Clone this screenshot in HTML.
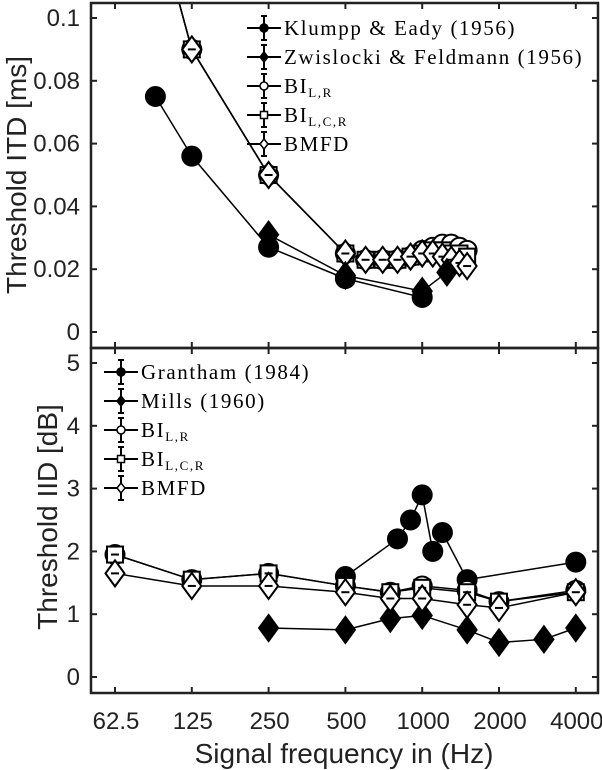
<!DOCTYPE html>
<html><head><meta charset="utf-8"><style>
body{margin:0;background:#fff}
svg{display:block;font-family:"Liberation Sans",sans-serif}
.leg{font-family:"Liberation Serif",serif;font-size:21px;letter-spacing:1.6px}
</style></head><body>
<svg id="c" width="602" height="770" xmlns="http://www.w3.org/2000/svg"></svg>
<script>
const xTicks=[62.5,125,250,500,1000,2000,4000];
const xTickLabels=["62.5","125","250","500","1000","2000","4000"];
const itdTicks=[0,0.02,0.04,0.06,0.08,0.1];
const itdTickLabels=["0","0.02","0.04","0.06","0.08","0.1"];
const iidTicks=[0,1,2,3,4,5];
const klFreq=[90,125,250,500,1000];
const klVal=[0.075,0.056,0.027,0.017,0.011];
const zwFreq=[250,500,1000,1250];
const zwVal=[0.031,0.018,0.013,0.019];
const mTopFreq=[62.5,125,250,500,600,700,800,900,1000,1100,1200,1300,1400,1500];
const biLRTop=[0.18,0.09,0.05,0.025,0.023,0.023,0.023,0.024,0.026,0.027,0.028,0.028,0.027,0.026];
const biLCRTop=[0.18,0.09,0.05,0.025,0.023,0.023,0.023,0.024,0.025,0.026,0.026,0.025,0.025,0.024];
const bmfdTop=[0.18,0.09,0.05,0.025,0.023,0.023,0.023,0.024,0.025,0.025,0.024,0.023,0.022,0.021];
const grFreq=[500,800,900,1000,1100,1200,1500,4000];
const grVal=[1.6,2.2,2.5,2.9,2.0,2.3,1.55,1.83];
const miFreq=[250,500,750,1000,1500,2000,3000,4000];
const miVal=[0.78,0.75,0.93,0.98,0.75,0.55,0.6,0.78];
const mBotFreq=[62.5,125,250,500,750,1000,1500,2000,4000];
const biLRBot=[1.95,1.55,1.65,1.45,1.35,1.45,1.38,1.2,1.38];
const biLCRBot=[1.95,1.55,1.65,1.45,1.35,1.42,1.35,1.2,1.35];
const bmfdBot=[1.65,1.45,1.45,1.35,1.25,1.25,1.15,1.1,1.35];

const S="http://www.w3.org/2000/svg", svg=document.getElementById('c');
const L=91,R=598,T1=3,B1=348,B2=693;
const X=f=>115+76.8*Math.log2(f/62.5);
const Ytop=v=>332-v*3140;
const Ybot=v=>677-v*62.8;
function el(t,a,p){const e=document.createElementNS(S,t);for(const k in a)e.setAttribute(k,a[k]);(p||svg).appendChild(e);return e;}
const defs=el('defs',{});
const cp1=el('clipPath',{id:'ct'},defs);el('rect',{x:L,y:T1,width:R-L,height:B1-T1},cp1);
const cp2=el('clipPath',{id:'cb'},defs);el('rect',{x:L,y:B1,width:R-L,height:B2-B1},cp2);

function marker(g,type,x,y,filled){
  const f=filled?'#000':'#fff';let m;
  if(type==='o'){m=el('circle',{cx:x,cy:y,r:9.5,fill:f,stroke:'#000','stroke-width':2},g);}
  else if(type==='s'){m=el('rect',{x:x-8,y:y-8,width:16,height:16,fill:f,stroke:'#000','stroke-width':2},g);}
  else {m=el('polygon',{points:`${x},${y-13} ${x+9.5},${y} ${x},${y+13} ${x-9.5},${y}`,fill:f,stroke:'#000','stroke-width':2},g);}
  return m;
}
function series(name,clip,fr,vals,Y,type,filled,dash){
  const g=el('g',{'clip-path':`url(#${clip})`});
  
  
  const pts=fr.map((f,i)=>X(f)+','+Y(vals[i])).join(' ');
  el('polyline',{points:pts,fill:'none',stroke:'#000','stroke-width':1.5},g);
  fr.forEach((f,i)=>{
    const m=marker(g,type,X(f),Y(vals[i]),filled);
    
    
    if(dash)el('line',{x1:X(f)-4,x2:X(f)+4,y1:Y(vals[i]),y2:Y(vals[i]),stroke:'#000','stroke-width':2},g);
  });
}
series('bi-lr-itd','ct',mTopFreq,biLRTop,Ytop,'o',false,true);
series('bi-lcr-itd','ct',mTopFreq,biLCRTop,Ytop,'s',false,true);
series('bmfd-itd','ct',mTopFreq,bmfdTop,Ytop,'d',false,true);
series('zwislocki-itd','ct',zwFreq,zwVal,Ytop,'d',true,false);
series('klumpp-itd','ct',klFreq,klVal,Ytop,'o',true,false);
series('grantham-iid','cb',grFreq,grVal,Ybot,'o',true,false);
series('mills-iid','cb',miFreq,miVal,Ybot,'d',true,false);
series('bi-lr-iid','cb',mBotFreq,biLRBot,Ybot,'o',false,true);
series('bi-lcr-iid','cb',mBotFreq,biLCRBot,Ybot,'s',false,true);
series('bmfd-iid','cb',mBotFreq,bmfdBot,Ybot,'d',false,true);

function axes(top,bot,ticks,labels,Y,nm){
  const g=el('g',{});
  
  
  el('rect',{x:L,y:top,width:R-L,height:bot-top,fill:'none',stroke:'#222','stroke-width':2.5},g);
  ticks.forEach((v,i)=>{const y=Y(v);
    el('line',{x1:L,x2:L+6,y1:y,y2:y,stroke:'#222','stroke-width':2},g);
    el('line',{x1:R-6,x2:R,y1:y,y2:y,stroke:'#222','stroke-width':2},g);
    const t=el('text',{x:L-11,y:y+8,'text-anchor':'end','font-size':24,fill:'#222'},g);t.textContent=labels[i];});
  xTicks.forEach(f=>{const x=X(f);
    el('line',{x1:x,x2:x,y1:bot,y2:bot-6,stroke:'#222','stroke-width':2},g);
    el('line',{x1:x,x2:x,y1:top,y2:top+6,stroke:'#222','stroke-width':2},g);});
}
axes(T1,B1,itdTicks,itdTickLabels,Ytop,'itd-axes');
axes(B1,B2,iidTicks,iidTicks.map(String),Ybot,'iid-axes');
xTicks.forEach((f,i)=>{const t=el('text',{x:X(f)+1,y:729,'text-anchor':'middle','font-size':24,fill:'#222'});
  t.textContent=xTickLabels[i];});
let t=el('text',{x:344,y:763,'text-anchor':'middle','font-size':28,fill:'#222'});t.textContent='Signal frequency in (Hz)';

t=el('text',{transform:'translate(26,175) rotate(-90)','text-anchor':'middle','font-size':28,fill:'#222'});t.textContent='Threshold ITD [ms]';

t=el('text',{transform:'translate(57,517) rotate(-90)','text-anchor':'middle','font-size':28,fill:'#222'});t.textContent='Threshold IID [dB]';


function legend(x0,y0,items,nm){
  const g=el('g',{});
  
  
  items.forEach((it,i)=>{const y=y0+29*i,cx=x0+17;
    const e=el('g',{},g);
    
    
    el('line',{x1:x0,x2:x0+34,y1:y,y2:y,stroke:'#000','stroke-width':2},e);
    el('line',{x1:cx,x2:cx,y1:y-12,y2:y+12,stroke:'#000','stroke-width':2},e);
    el('line',{x1:cx-3,x2:cx+3,y1:y-12,y2:y-12,stroke:'#000','stroke-width':2},e);
    el('line',{x1:cx-3,x2:cx+3,y1:y+12,y2:y+12,stroke:'#000','stroke-width':2},e);
    const f=it[1]?'#000':'#fff';
    if(it[0]==='o')el('circle',{cx,cy:y,r:4,fill:f,stroke:'#000','stroke-width':1.5},e);
    else if(it[0]==='s')el('rect',{x:cx-3.5,y:y-3.5,width:7,height:7,fill:f,stroke:'#000','stroke-width':1.5},e);
    else el('polygon',{points:`${cx},${y-5} ${cx+4},${y} ${cx},${y+5} ${cx-4},${y}`,fill:f,stroke:'#000','stroke-width':1.5},e);
    const tx=el('text',{x:x0+37,y:y+7,class:'leg',fill:'#000'},e);
    tx.innerHTML=it[2];});
}
const sub=s=>`<tspan font-size="13" dy="4">${s}</tspan>`;
legend(247,28,[['o',1,'Klumpp &amp; Eady (1956)'],['d',1,'Zwislocki &amp; Feldmann (1956)'],['o',0,'BI'+sub('L,R')],['s',0,'BI'+sub('L,C,R')],['d',0,'BMFD']],'itd-legend');
legend(104,372,[['o',1,'Grantham (1984)'],['d',1,'Mills (1960)'],['o',0,'BI'+sub('L,R')],['s',0,'BI'+sub('L,C,R')],['d',0,'BMFD']],'iid-legend');
</script>
</body></html>
